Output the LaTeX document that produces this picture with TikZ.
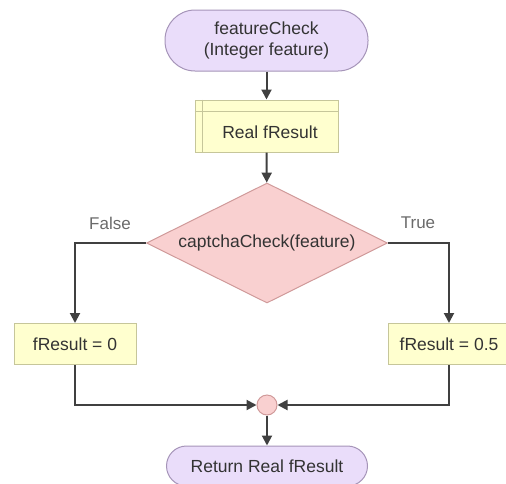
\documentclass[tikz,border=0pt]{standalone}
\usepackage{fontspec}
\setmainfont{Liberation Sans}
\usetikzlibrary{shapes.geometric,arrows.meta}
\definecolor{termfill}{HTML}{EADDFA}
\definecolor{termdraw}{HTML}{A594B8}
\definecolor{boxfill}{HTML}{FFFFCF}
\definecolor{boxdraw}{HTML}{C6C69A}
\definecolor{decfill}{HTML}{F9D0D0}
\definecolor{decdraw}{HTML}{D09A9A}
\definecolor{linecol}{HTML}{404040}
\definecolor{txtcol}{HTML}{333333}
\definecolor{lblcol}{HTML}{6A6A6A}
\tikzset{
  base/.style={inner sep=0pt, line width=1pt, text=txtcol, font=\fontsize{17.5}{21}\selectfont, align=center},
  term/.style={base, rectangle, fill=termfill, draw=termdraw},
  procbox/.style={base, rectangle, fill=boxfill, draw=boxdraw},
  decis/.style={base, diamond, aspect=2, fill=decfill, draw=decdraw},
  mergept/.style={circle, inner sep=0pt, minimum size=20pt, fill=decfill, draw=decdraw, line width=1pt},
  conn/.style={draw=linecol, line width=2pt, -{Triangle[length=10pt,width=10pt]}},
  lbl/.style={text=lblcol, font=\fontsize{17}{20}\selectfont}
}
\begin{document}
\begin{tikzpicture}[x=1pt,y=-1pt]
\useasboundingbox (0,0) rectangle (506,483);
\begin{scope}
\clip (0,0) rectangle (506,483);
\node[term, minimum width=203pt, minimum height=61pt, rounded corners=30pt] (start) at (266.5,40.5) {featureCheck\\(Integer feature)};
\node[procbox, minimum width=143pt, minimum height=52pt] (decl) at (266.5,126) {};
\node[base] (decltext) at (270,132) {Real fResult};
\draw[boxdraw, line width=1pt] ([xshift=8pt]decl.north west) -- ([xshift=8pt]decl.south west);
\draw[boxdraw, line width=1pt] ([yshift=-12pt]decl.north west) -- ([yshift=-12pt]decl.north east);
\node[decis, minimum width=241pt, minimum height=120pt] (dec) at (267,243) {captchaCheck(feature)};
\node[procbox, minimum width=122pt, minimum height=41pt] (lbox) at (75,344) {fResult = 0};
\node[procbox, minimum width=122pt, minimum height=41pt] (rbox) at (449,344) {fResult = 0.5};
\node[mergept] (merge) at (267,405) {};
\node[term, minimum width=201pt, minimum height=40pt, rounded corners=20pt] (ret) at (267,466) {Return Real fResult};
\node[lbl] (flbl) at (110,223) {False};
\node[lbl] (tlbl) at (418,223) {True};
\draw[conn] (start) -- (decl);
\draw[conn] (decl) -- (dec);
\draw[conn] (dec.west) -| (lbox.north);
\draw[conn] (dec.east) -| (rbox.north);
\draw[conn] (lbox.south) |- (merge.west);
\draw[conn] (rbox.south) |- (merge.east);
\draw[conn] (merge) -- (ret);
\end{scope}
\end{tikzpicture}
\end{document}
